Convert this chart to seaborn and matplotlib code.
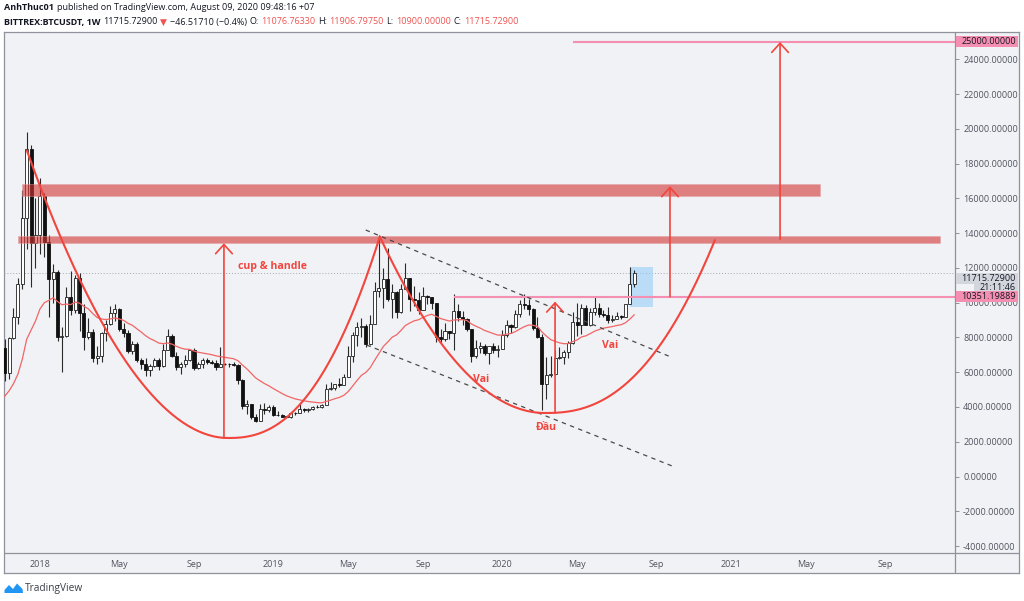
import numpy as np
import pandas as pd
import matplotlib
matplotlib.use("Agg")
import matplotlib.pyplot as plt
import seaborn as sns
from matplotlib.patches import Rectangle, Polygon

# ---------------- data (weekly BTCUSDT candles, week of 2017-11-06 .. 2020-08-03) ----------------
first_week = "2017-11-06"
opens = [7400, 5950, 7950, 9200, 11100, 14900, 18850, 13450, 13900, 16150, 13500, 11350, 11780, 8000, 8100, 10300,
         9600, 11400, 9400, 8050, 8300, 6800, 6950, 8250, 8750, 9400, 9650, 8500, 8250, 7200, 7600, 6700,
         6450, 6100, 6350, 6700, 6350, 7300, 8100, 6950, 6300, 6450, 6700, 7250, 6250, 6500, 6700, 6600,
         6550, 6300, 6450, 6480, 6450, 6400, 5550, 4050, 4150, 3450, 3200, 3900, 3850, 4000, 3550, 3530,
         3450, 3420, 3650, 3640, 3900, 3820, 3900, 4000, 3980, 4100, 5050, 5100, 5300, 5250, 5750, 6950,
         8150, 8600, 8650, 7600, 8800, 10700, 10850, 11350, 10200, 10600, 9450, 10800, 11400, 10200, 10150, 9600,
         10400, 10350, 10000, 8050, 7900, 8350, 8250, 9550, 9200, 9050, 8500, 6950, 7400, 7500, 7100, 7500,
         7300, 7350, 8150, 8700, 8600, 9350, 9900, 9880, 9650, 8550, 8000, 5350, 5850, 5900, 6800, 6900,
         7150, 7700, 8900, 8700, 9680, 8720, 9450, 9680, 9350, 9300, 9000, 9070, 9250, 9170, 9930, 11076.7633]
highs = [7900, 8000, 9700, 11400, 16500, 19800, 19100, 16000, 17150, 16300, 13900, 12200, 11900, 8600, 10900, 11800,
         11600, 11700, 9900, 9100, 8500, 7500, 8300, 9000, 9800, 9900, 9700, 8850, 8450, 7800, 7750, 6800,
         6800, 6500, 6800, 6800, 7600, 8500, 8200, 7150, 6600, 7000, 7300, 7400, 6600, 6800, 6800, 6700,
         6700, 7450, 6550, 6550, 6600, 6450, 5600, 4400, 4200, 3580, 4150, 4250, 4100, 4100, 3750, 3620,
         3500, 3700, 3720, 4200, 3950, 3950, 4050, 4100, 4200, 5300, 5450, 5350, 5650, 5900, 7500, 8300,
         8900, 9100, 8800, 9300, 11200, 13900, 12000, 13150, 11100, 10650, 11100, 12300, 11450, 10950, 10600, 10900,
         10450, 10350, 10000, 8500, 8850, 8400, 10500, 9900, 9500, 9100, 8500, 7850, 7750, 7650, 7500, 7700,
         7550, 8450, 9000, 8750, 9600, 10150, 10500, 10200, 9700, 9200, 8200, 6900, 6950, 7300, 7450, 7250,
         7800, 9450, 10000, 9950, 9850, 9700, 10400, 10000, 9600, 9750, 9300, 9450, 9300, 9950, 12050, 11906.7975]
lows = [5500, 5600, 7900, 8800, 10800, 13100, 10900, 12000, 12800, 12650, 9200, 10000, 7800, 6000, 8000, 9300,
        9400, 8400, 7300, 7900, 6600, 6500, 6600, 7800, 8700, 8950, 8400, 8000, 7100, 7050, 6600, 6200,
        5800, 5800, 6300, 6100, 6300, 7300, 6900, 6100, 5900, 6300, 6650, 6150, 6200, 6250, 6450, 6500,
        6150, 6300, 6400, 6300, 6350, 5300, 3900, 3600, 3300, 3150, 3200, 3600, 3700, 3500, 3500, 3420,
        3350, 3380, 3560, 3640, 3700, 3700, 3850, 3950, 3950, 4100, 4950, 5000, 5150, 5250, 5750, 6600,
        7500, 8000, 7450, 7550, 8800, 10300, 9700, 10100, 9100, 9100, 9400, 10800, 9500, 9800, 9350, 9600,
        9900, 9650, 7750, 7750, 7800, 7900, 7300, 8950, 8700, 8400, 6600, 6800, 7100, 7000, 6450, 7100,
        6850, 7350, 8050, 8250, 8550, 9150, 9650, 9300, 8450, 7950, 3800, 4450, 5700, 5850, 6750, 6500,
        6800, 7650, 8100, 8200, 8800, 8650, 9300, 9200, 9200, 8850, 8900, 9050, 9050, 9150, 9900, 10900]
closes = [5950, 7950, 9200, 11100, 14900, 18850, 13450, 13900, 16150, 13500, 11350, 11780, 8000, 8100, 10300, 9600,
          11400, 9400, 8050, 8300, 6800, 6950, 8250, 8750, 9400, 9650, 8500, 8250, 7200, 7600, 6700, 6450,
          6100, 6350, 6700, 6350, 7300, 8100, 6950, 6300, 6450, 6700, 7250, 6250, 6500, 6700, 6600, 6550,
          6300, 6450, 6480, 6450, 6400, 5550, 4050, 4150, 3450, 3200, 3900, 3850, 4000, 3550, 3530, 3450,
          3420, 3650, 3640, 3900, 3820, 3900, 4000, 3980, 4100, 5050, 5100, 5300, 5250, 5750, 6950, 8150,
          8600, 8650, 7600, 8800, 10700, 10850, 11350, 10200, 10600, 9450, 10800, 11400, 10200, 10150, 9600, 10400,
          10350, 10000, 8050, 7900, 8350, 8250, 9550, 9200, 9050, 8500, 6950, 7400, 7500, 7100, 7500, 7300,
          7350, 8150, 8700, 8600, 9350, 9900, 9880, 9650, 8550, 8000, 5350, 5850, 5900, 6800, 6900, 7150,
          7700, 8900, 8700, 9680, 8720, 9450, 9680, 9350, 9300, 9000, 9070, 9250, 9170, 9930, 11050, 11715.729]
# weekly closes before the first visible candle (2017-06-26 .. 2017-10-30), feed the EMA
prior_closes = [2500, 2500, 1930, 2750, 2750, 3230, 4050, 4100, 4350, 4600, 4200, 3700, 3600, 4400, 4600,
                5700, 6000, 6150, 7400]
ema_length = 20

tick_dates = ["2018-01-01", "2018-05-07", "2018-09-03", "2019-01-07", "2019-05-06", "2019-09-02",
              "2020-01-06", "2020-05-04", "2020-09-07", "2021-01-04", "2021-05-03", "2021-09-06"]
tick_labels = ["2018", "May", "Sep", "2019", "May", "Sep", "2020", "May", "Sep", "2021", "May", "Sep"]
price_ticks = list(range(-4000, 25000, 2000))

# drawings (x in weeks since 2018-01-01, y in USDT)
zone_upper = (-4.05, 177.2, 16140, 16830)
zone_lower = (-4.97, 204.4, 13418, 13855)
neckline = (94.0, 10351.19889)
target_line = (121.1, 25000.0)
cup_big = [(-2.95, 18750), (42.7, 2215), (77.2, 13800)]
cup_small = [(77.2, 13800), (114.7, 3654), (153.3, 13600)]
channel_top = [(74.0, 14183), (143.3, 6876)]
channel_bottom = [(74.2, 7566), (143.6, 604)]
arrows = [(41.8, 2215, 13420), (143.1, 10351, 16700), (168.1, 13640, 25000), (117.0, 3654, 10060)]
box_blue = (134.0, 139.2, 9770, 12037)
labels_txt = [("cup & handle", 52.9, 12071), ("Vai", 100.3, 5593), ("Vai", 129.5, 7566), ("Đầu", 115.1, 2808)]

# ---------------- figure ----------------
sns.set_theme(style="white")
plt.rcParams["font.family"] = ["Open Sans", "DejaVu Sans"]

W, H = 1024, 601
fig = plt.figure(figsize=(W / 100, H / 100), dpi=100, facecolor="white")


def fx(px):
    return px / W


def fy(py):
    return 1 - py / H


L, R, T, B, B2, RR = 4.3, 955.3, 32.3, 552.7, 573.3, 1019.0
BG = "#f0f2f5"
FRAME = "#8f929b"
RED = "#f2453d"

bg = fig.add_axes([fx(L), fy(B2), fx(RR - L), (B2 - T) / H], zorder=0)
bg.set_facecolor(BG)
bg.set_xticks([])
bg.set_yticks([])
for s in bg.spines.values():
    s.set_color(FRAME)
    s.set_linewidth(0.9)

ax = fig.add_axes([fx(L), fy(B), fx(R - L), (B - T) / H], zorder=1)
ax.set_facecolor("none")
for s in ax.spines.values():
    s.set_visible(False)

xmin, xmax = -8.085, 207.9
ymin, ymax = -4384, 25558
ax.set_xlim(xmin, xmax)
ax.set_ylim(ymin, ymax)

# frame separators
fig.add_artist(plt.Line2D([fx(L), fx(RR)], [fy(B), fy(B)], color=FRAME, lw=0.9, transform=fig.transFigure))
fig.add_artist(plt.Line2D([fx(R), fx(R)], [fy(T), fy(B2)], color=FRAME, lw=0.9, transform=fig.transFigure))

# week positions
dates = pd.date_range(first_week, periods=len(closes), freq="7D")
origin = pd.Timestamp("2018-01-01")
wk = np.asarray((dates - origin).days / 7.0)
O = np.array(opens, float)
Hh = np.array(highs, float)
Lo = np.array(lows, float)
C = np.array(closes, float)

# EMA
ema_all = pd.Series(prior_closes + closes, dtype=float).ewm(span=ema_length, adjust=False).mean()
ema = ema_all.iloc[len(prior_closes):].to_numpy()

# blue box
ax.add_patch(Rectangle((box_blue[0], box_blue[2]), box_blue[1] - box_blue[0], box_blue[3] - box_blue[2],
                       fc="#90caf9", ec="none", alpha=0.55, zorder=2))

# current price dotted line
ax.axhline(C[-1], color="#a3a7b0", lw=0.7, ls=(0, (1, 2)), zorder=1.5)

# candles
up = C >= O
body_bottom = np.minimum(O, C)
body_h = np.maximum(np.abs(C - O), 35)
ax.vlines(wk, Lo, Hh, color="#2a2a2a", lw=0.8, zorder=3)
ax.bar(wk[up], body_h[up], bottom=body_bottom[up], width=0.7, color="white", edgecolor="#1e1e1e",
       linewidth=0.6, zorder=3.2)
ax.bar(wk[~up], body_h[~up], bottom=body_bottom[~up], width=0.7, color="#111111", edgecolor="#111111",
       linewidth=0.6, zorder=3.2)

# EMA line via seaborn
sns.lineplot(x=wk, y=ema, ax=ax, color="#f26565", lw=0.9, zorder=3.5, legend=False)

# zones
for (x0, x1, y0, y1) in (zone_upper, zone_lower):
    ax.add_patch(Rectangle((x0, y0), x1 - x0, y1 - y0, fc="#d53432", ec="#e4a0a0", lw=0.5, alpha=0.6, zorder=4))

# pink horizontal lines
for (x0, yv) in (neckline, target_line):
    ax.plot([x0, xmax], [yv, yv], color="#f48fb1", lw=1.5, zorder=5, solid_capstyle="butt")


def cup(pts, pl, pr, n=120):
    (xs, ys), (xb, yb), (xe, ye) = pts
    xl = np.linspace(xs, xb, n)
    yl = yb + (ys - yb) * (np.abs(xl - xb) / abs(xs - xb)) ** pl
    xr = np.linspace(xb, xe, n)
    yr = yb + (ye - yb) * (np.abs(xr - xb) / abs(xe - xb)) ** pr
    return np.concatenate([xl, xr]), np.concatenate([yl, yr])


for pts, pl, pr in ((cup_big, 1.95, 2.4), (cup_small, 2.0, 2.4)):
    cx, cy = cup(pts, pl, pr)
    ax.plot(cx, cy, color=RED, lw=1.5, zorder=6, solid_capstyle="round")

# channel
for seg in (channel_top, channel_bottom):
    ax.plot([seg[0][0], seg[1][0]], [seg[0][1], seg[1][1]], color="#4a4a4a", lw=0.9,
            ls=(0, (3.5, 3.5)), zorder=5)

# arrows
for (xa, y0, y1) in arrows:
    ax.annotate("", xy=(xa, y1), xytext=(xa, y0),
                arrowprops=dict(arrowstyle="->,head_length=0.55,head_width=0.5", color=RED, lw=1.2,
                                shrinkA=0, shrinkB=0), zorder=6)

# texts
for t, xt, yt in labels_txt:
    ax.text(xt, yt, t, color=RED, fontsize=7.6, fontweight="bold", ha="center", va="center", zorder=7)

# axes ticks
ax.yaxis.tick_right()
ax.set_yticks(price_ticks)
ax.set_yticklabels([f"{v:.5f}" for v in price_ticks])
ax.tick_params(axis="y", direction="out", length=3, width=0.7, pad=2.6, labelsize=6.5,
               colors="#8f929b", labelcolor="#50535e")
tick_w = [(pd.Timestamp(d) - origin).days / 7.0 for d in tick_dates]
ax.set_xticks(tick_w)
ax.set_xticklabels(tick_labels)
ax.tick_params(axis="x", direction="out", length=2, width=0.7, pad=3.2, labelsize=6.5,
               colors="#8f929b", labelcolor="#50535e")


# price tags
def p2py(p):
    return T + (ymax - p) / (ymax - ymin) * (B - T)


def tag(pyc, text, fc, x0=956.3, x1=1018.3, h=11, tx=961.5, ha="left", tc="#131722"):
    fig.add_artist(Rectangle((fx(x0), fy(pyc + h / 2)), fx(x1 - x0), h / H, transform=fig.transFigure,
                             fc=fc, ec="none", zorder=5))
    fig.text(fx(tx), fy(pyc), text, ha=ha, va="center", fontsize=6.5, color=tc, zorder=6)


tag(p2py(25000), "25000.00000", "#f48fb1")
tag(p2py(C[-1]) + 6, f"{C[-1]:.5f}", "#d4d6dd")
tag(p2py(C[-1]) + 15, "21:11:46", "#d4d6dd", x0=973.5, tx=1015.5, h=8.5, ha="right")
tag(p2py(10351.19889), "10351.19889", "#f48fb1")

# header
renderer = fig.canvas.get_renderer()


def chain(x, y, parts, size=6.5):
    for text, color, weight in parts:
        t = fig.text(fx(x), fy(y), text, fontsize=size, color=color, fontweight=weight, ha="left", va="center")
        bb = t.get_window_extent(renderer)
        x = bb.x1 + 2.6


DK = "#131722"
HR = "#ef5350"
chain(4.3, 8, [("AnhThuc01", DK, "bold"),
               ("published on TradingView.com, August 09, 2020 09:48:16 +07", DK, "normal")])
chain(4.3, 22, [("BITTREX:BTCUSDT, 1W", DK, "bold"), ("11715.72900", DK, "normal"), ("▼", HR, "normal"),
                ("\u221246.51710 (\u22120.4%)", DK, "normal"), ("O:", DK, "normal"), ("11076.76330", HR, "normal"),
                ("H:", DK, "normal"), ("11906.79750", HR, "normal"), ("L:", DK, "normal"),
                ("10900.00000", HR, "normal"), ("C:", DK, "normal"), ("11715.72900", HR, "normal")])

# TradingView footer
logo = Polygon([(fx(4.5), fy(593)), (fx(4.5), fy(590)), (fx(9), fy(585)), (fx(13), fy(589)),
                (fx(17), fy(583.5)), (fx(22.5), fy(589)), (fx(23), fy(593))],
               closed=True, transform=fig.transFigure, fc="#2196f3", ec="none")
fig.add_artist(logo)
fig.text(fx(25), fy(588.5), "TradingView", fontsize=7.3, color="#3a3d46", va="center", ha="left")

fig.savefig("out.png", dpi=100, facecolor="white")
